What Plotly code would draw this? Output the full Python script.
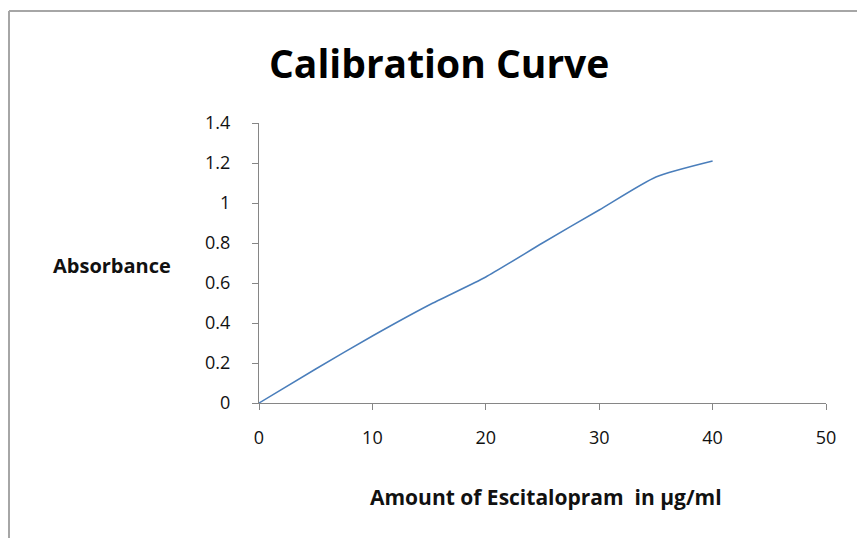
import plotly.graph_objects as go

concentration = [0, 5, 10, 15, 20, 25, 30, 35, 40]
absorbance = [0, 0.17, 0.335, 0.49, 0.63, 0.80, 0.965, 1.13, 1.21]
x_ticks = [0, 10, 20, 30, 40, 50]
y_ticks = [0, 0.2, 0.4, 0.6, 0.8, 1.0, 1.2, 1.4]
y_tick_labels = ["0", "0.2", "0.4", "0.6", "0.8", "1", "1.2", "1.4"]

W, H = 857, 538
L, T = 259, 123
pw, ph = 567, 280
R, B = W - L - pw, H - T - ph

def px(x):
    return (x - L) / pw

def py(y):
    return (T + ph - y) / ph

font_family = "Open Sans, Noto Sans, sans-serif"

fig = go.Figure()
fig.add_trace(go.Scatter(
    x=concentration, y=absorbance, mode="lines",
    line=dict(color="#4a7ebb", width=1.5, shape="spline", smoothing=0.6),
    showlegend=False, hoverinfo="skip",
))

axis_common = dict(
    showgrid=False, zeroline=False, showline=True, linecolor="#868686", linewidth=1,
    ticks="outside", ticklen=6, tickcolor="#868686",
    tickfont=dict(family=font_family, size=18, color="#111111"),
)

border = dict(color="#a6a6a6", width=2)

fig.update_layout(
    width=W, height=H,
    margin=dict(l=L, r=R, t=T, b=B),
    paper_bgcolor="white", plot_bgcolor="white",
    xaxis=dict(range=[0, 50], tickvals=x_ticks, ticklabelstandoff=12, **axis_common),
    yaxis=dict(range=[0, 1.4], tickvals=y_ticks, ticktext=y_tick_labels,
               ticklabelstandoff=18, **axis_common),
    annotations=[
        dict(text="<b>Calibration Curve</b>", x=px(439), y=py(62), xref="paper", yref="paper",
             showarrow=False, font=dict(family=font_family, size=39, color="black"),
             xanchor="center", yanchor="middle"),
        dict(text="<b>Absorbance</b>", x=px(112), y=py(265), xref="paper", yref="paper",
             showarrow=False, font=dict(family=font_family, size=20, color="#111111"),
             xanchor="center", yanchor="middle"),
        dict(text="<b>Amount of Escitalopram  in \u00b5g/ml</b>", x=px(546), y=py(497),
             xref="paper", yref="paper", showarrow=False,
             font=dict(family=font_family, size=21, color="#111111"),
             xanchor="center", yanchor="middle"),
    ],
    shapes=[
        dict(type="line", xref="paper", yref="paper",
             x0=px(9), x1=px(870), y0=py(11), y1=py(11), line=border, layer="below"),
        dict(type="line", xref="paper", yref="paper",
             x0=px(9), x1=px(9), y0=py(11), y1=py(560), line=border, layer="below"),
    ],
)

fig.write_html(
    "out.html",
    config={"displayModeBar": False},
    post_script="document.body.style.margin='0';document.body.style.overflow='hidden';",
)
